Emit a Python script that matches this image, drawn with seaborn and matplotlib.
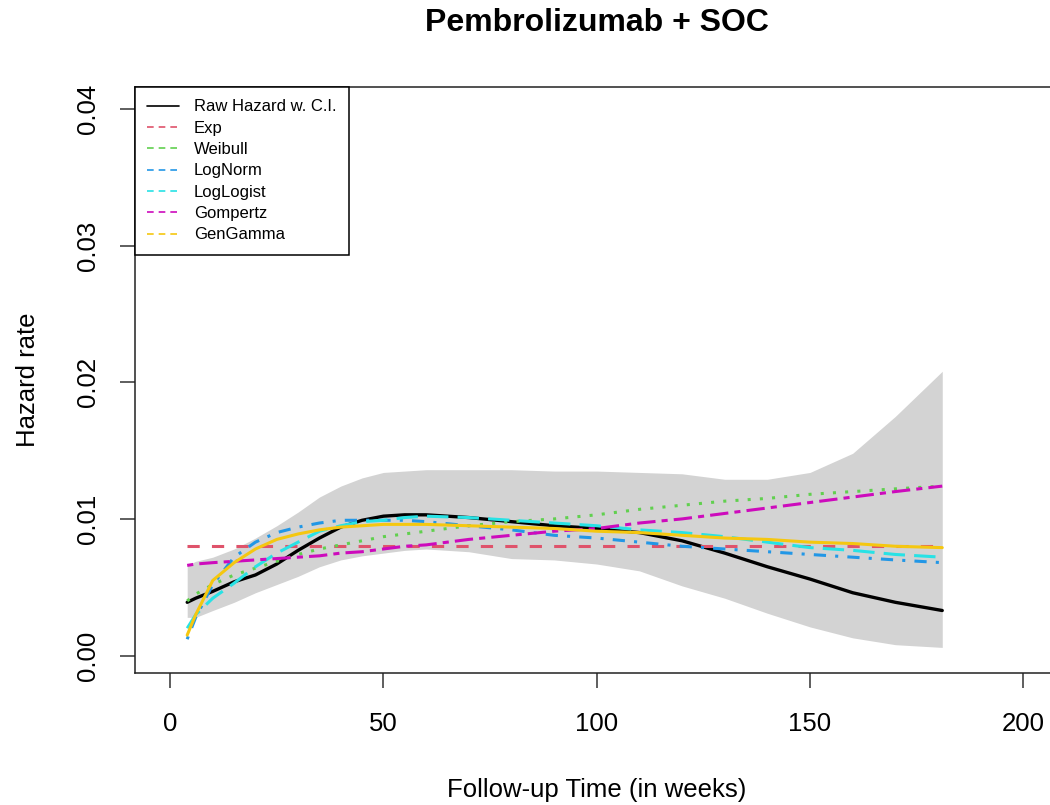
import matplotlib
matplotlib.use("Agg")
import matplotlib.pyplot as plt
from matplotlib.lines import Line2D
import seaborn as sns

# <--- chart values --->
weeks = [4, 6, 10, 15, 20, 25, 30, 35, 40, 45, 50, 55, 60,
         70, 80, 90, 100, 110, 120, 130, 140, 150, 160, 170, 181]

raw_hazard = [0.0039, 0.0042, 0.0047, 0.0054, 0.0059, 0.0067, 0.0077, 0.0086, 0.0094, 0.0099, 0.0102, 0.0103, 0.0103,
              0.0101, 0.0098, 0.0095, 0.0093, 0.0090, 0.0084, 0.0075, 0.0065, 0.0056, 0.0046, 0.0039, 0.0033]
ci_upper = [0.0066, 0.0069, 0.0072, 0.0078, 0.0086, 0.0095, 0.0105, 0.0116, 0.0124, 0.0130, 0.0134, 0.0135, 0.0136,
            0.0136, 0.0136, 0.0135, 0.0135, 0.0134, 0.0133, 0.0129, 0.0129, 0.0134, 0.0148, 0.0175, 0.0208]
ci_lower = [0.0028, 0.0028, 0.0033, 0.0039, 0.0046, 0.0052, 0.0058, 0.0065, 0.0070, 0.0073, 0.0075, 0.0077, 0.0078,
            0.0076, 0.0071, 0.0070, 0.0067, 0.0062, 0.0051, 0.0042, 0.0031, 0.0021, 0.0013, 0.0008, 0.0006]

exp_fit = [0.0080, 0.0080, 0.0080, 0.0080, 0.0080, 0.0080, 0.0080, 0.0080, 0.0080, 0.0080, 0.0080, 0.0080, 0.0080,
           0.0080, 0.0080, 0.0080, 0.0080, 0.0080, 0.0080, 0.0080, 0.0080, 0.0080, 0.0080, 0.0080, 0.0080]
weibull_fit = [0.0040, 0.0045, 0.0052, 0.0059, 0.0064, 0.0069, 0.0074, 0.0078, 0.0081, 0.0084, 0.0087, 0.0089, 0.0091,
               0.0095, 0.0098, 0.0100, 0.0103, 0.0107, 0.0110, 0.0113, 0.0115, 0.0118, 0.0120, 0.0122, 0.0124]
lognorm_fit = [0.0012, 0.0028, 0.0052, 0.0072, 0.0083, 0.0090, 0.0094, 0.0097, 0.0099, 0.0099, 0.0099, 0.0099, 0.0098,
               0.0095, 0.0092, 0.0088, 0.0086, 0.0083, 0.0080, 0.0078, 0.0076, 0.0074, 0.0072, 0.0070, 0.0068]
loglogist_fit = [0.0020, 0.0030, 0.0042, 0.0053, 0.0065, 0.0075, 0.0083, 0.0091, 0.0095, 0.0098, 0.0099, 0.0101, 0.0102,
                 0.0101, 0.0099, 0.0097, 0.0095, 0.0092, 0.0090, 0.0087, 0.0083, 0.0079, 0.0077, 0.0074, 0.0072]
gompertz_fit = [0.0066, 0.0067, 0.0068, 0.0069, 0.0070, 0.0071, 0.0072, 0.0073, 0.0075, 0.0076, 0.0078, 0.0080, 0.0081,
                0.0085, 0.0088, 0.0091, 0.0093, 0.0097, 0.0100, 0.0104, 0.0108, 0.0112, 0.0116, 0.0120, 0.0124]
gengamma_fit = [0.0015, 0.0030, 0.0055, 0.0068, 0.0078, 0.0085, 0.0089, 0.0092, 0.0094, 0.0095, 0.0096, 0.0096, 0.0096,
                0.0095, 0.0094, 0.0093, 0.0091, 0.0090, 0.0088, 0.0086, 0.0085, 0.0083, 0.0082, 0.0080, 0.0079]

legend_labels = ["Raw Hazard w. C.I.", "Exp", "Weibull", "LogNorm", "LogLogist", "Gompertz", "GenGamma"]
x_ticks = [0, 50, 100, 150, 200]
y_ticks = [0.00, 0.01, 0.02, 0.03, 0.04]

# R default palette colours and line types
fits = [
    (exp_fit, "#DF536B", (0, (4, 4))),
    (weibull_fit, "#61D04F", (0, (1, 3))),
    (lognorm_fit, "#2297E6", (0, (1, 3, 4, 3))),
    (loglogist_fit, "#28E2E5", (0, (7, 3))),
    (gompertz_fit, "#CD0BBC", (0, (2, 2, 6, 2))),
    (gengamma_fit, "#F5C710", "-"),
]

sns.set_style("ticks")
plt.rcParams["font.family"] = ["Liberation Sans", "DejaVu Sans"]
plt.rcParams["text.color"] = "black"
plt.rcParams["axes.labelcolor"] = "black"
plt.rcParams["xtick.color"] = "black"
plt.rcParams["ytick.color"] = "black"

fig = plt.figure(figsize=(10.5, 8.05), dpi=100)
ax = fig.add_axes([0.1283, 0.164, 0.880, 0.728])

ax.fill_between(weeks, ci_lower, ci_upper, color="#D3D3D3", linewidth=0)
sns.lineplot(x=weeks, y=raw_hazard, ax=ax, color="black", linewidth=2.4,
             sort=False, errorbar=None)
for vals, col, ls in fits:
    sns.lineplot(x=weeks, y=vals, ax=ax, color=col, linewidth=2.2, linestyle=ls,
                 sort=False, errorbar=None)

ax.set_xlim(-8.3, 208.3)
ax.set_ylim(-0.00127, 0.0416)
ax.set_xticks(x_ticks)
ax.set_yticks(y_ticks)
ax.set_xticklabels([str(t) for t in x_ticks])
ax.set_yticklabels([f"{t:.2f}" for t in y_ticks])
ax.tick_params(length=11, width=1.1, color="#333333", labelsize=18.5,
               direction="out", labelcolor="black")
ax.tick_params(axis="x", pad=17)
ax.tick_params(axis="y", pad=14)
for lab in ax.get_yticklabels():
    lab.set_rotation(90)
    lab.set_va("center")
for sp in ax.spines.values():
    sp.set_visible(True)
    sp.set_color("#222222")
    sp.set_linewidth(1.1)

ax.set_xlabel("Follow-up Time (in weeks)", fontsize=18.5, labelpad=30)
ax.set_ylabel("Hazard rate", fontsize=18.5, labelpad=26)
fig.text(0.5685, 0.971, "Pembrolizumab + SOC", fontsize=23, fontweight="bold",
         ha="center", va="center")

handles = [Line2D([], [], color="black", linewidth=1.2)]
for vals, col, ls in fits:
    handles.append(Line2D([], [], color=col, linewidth=1.2, linestyle=(0, (4, 3))))
leg = ax.legend(handles, legend_labels, loc="upper left", bbox_to_anchor=(0, 1),
                borderaxespad=0, fontsize=12, frameon=True, fancybox=False,
                edgecolor="black", framealpha=1, handlelength=1.9,
                handletextpad=0.9, labelspacing=0.38, borderpad=0.75)
leg.get_frame().set_linewidth(1.1)

fig.savefig("out.png", dpi=100)
